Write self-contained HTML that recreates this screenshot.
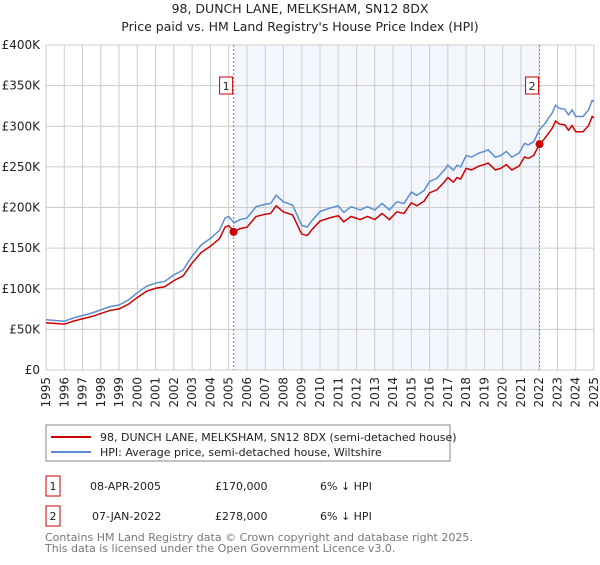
<!DOCTYPE html>
<html><head><meta charset="utf-8"><style>
body{margin:0;background:#fff;font-family:"Liberation Sans","DejaVu Sans",sans-serif}
svg text{font-family:"DejaVu Sans","Liberation Sans",sans-serif}
</style></head><body>
<svg id="c" width="600" height="560" xmlns="http://www.w3.org/2000/svg">
<text x="300" y="13" text-anchor="middle" font-size="12.5" fill="#222">98, DUNCH LANE, MELKSHAM, SN12 8DX</text>
<text x="300" y="31" text-anchor="middle" font-size="12.5" fill="#222">Price paid vs. HM Land Registry's House Price Index (HPI)</text>
<g id="plot"></g>
<g>
<rect x="46" y="425" width="404" height="36" fill="#fff" stroke="#888"/>
<line x1="51" y1="437" x2="91" y2="437" stroke="#cc0000" stroke-width="2"/>
<text x="100" y="441" font-size="11" fill="#222">98, DUNCH LANE, MELKSHAM, SN12 8DX (semi-detached house)</text>
<line x1="51" y1="452" x2="91" y2="452" stroke="#5b8dd0" stroke-width="2"/>
<text x="100" y="456" font-size="11" fill="#222">HPI: Average price, semi-detached house, Wiltshire</text>
</g>
<g font-size="11" fill="#222">
<rect x="46" y="476" width="14" height="20" fill="none" stroke="#cc0000"/>
<text x="53" y="490" text-anchor="middle">1</text>
<text x="90" y="490">08-APR-2005</text><text x="215" y="490">£170,000</text><text x="320" y="490">6% ↓ HPI</text>
<rect x="46" y="506" width="14" height="20" fill="none" stroke="#cc0000"/>
<text x="53" y="520" text-anchor="middle">2</text>
<text x="92" y="520">07-JAN-2022</text><text x="215" y="520">£278,000</text><text x="320" y="520">6% ↓ HPI</text>
</g>
<text x="45" y="541" font-size="11" fill="#777">Contains HM Land Registry data © Crown copyright and database right 2025.</text>
<text x="45" y="552" font-size="11" fill="#777">This data is licensed under the Open Government Licence v3.0.</text>
</svg>
<script>
const years=[1995,1996,1996.5,1997.5,1998.5,1999,1999.5,2000,2000.5,2001,2001.5,2002,2002.5,2003,2003.5,2004,2004.5,2004.8,2005,2005.3,2005.6,2006,2006.5,2007,2007.3,2007.6,2008,2008.5,2009,2009.3,2009.6,2010,2010.5,2011,2011.3,2011.7,2012.2,2012.6,2013,2013.4,2013.8,2014.2,2014.6,2015,2015.3,2015.7,2016,2016.4,2016.8,2017,2017.3,2017.5,2017.7,2018,2018.3,2018.7,2019,2019.2,2019.6,2019.9,2020.2,2020.5,2020.9,2021.2,2021.4,2021.7,2022,2022.3,2022.7,2022.9,2023.1,2023.4,2023.6,2023.8,2024,2024.4,2024.7,2024.9,2025];
const hpi=[61.8,60,64,70,78,80,86,95,103,107,109,117,123,140,154,162,172,187,189,181,185,187,201,204,205,215,207,203,178,176,185,195,199,202,194,201,197,201,197,205,197,207,205,219,215,221,232,236,246,252,246,252,250,264,262,267,269,271,262,264,269,262,267,279,277,281,295,303,316,326,322,321,314,320,312,312,320,332,330];
const priceRatio=[0.94];
const saleYears=[2005.27,2022.02];
const salePrices=[170,278];
const yTicks=[0,50,100,150,200,250,300,350,400];
const yTickLabels=["£0","£50K","£100K","£150K","£200K","£250K","£300K","£350K","£400K"];
const xTicks=[1995,1996,1997,1998,1999,2000,2001,2002,2003,2004,2005,2006,2007,2008,2009,2010,2011,2012,2013,2014,2015,2016,2017,2018,2019,2020,2021,2022,2023,2024,2025];
const X0=46,X1=594,Y0=370,Y1=45;
const xs=y=>X0+(y-1995)/30*(X1-X0);
const ys=v=>Y0-v/400*(Y0-Y1);
const NS="http://www.w3.org/2000/svg";
const g=document.getElementById('plot');
function mk(t,a){const e=document.createElementNS(NS,t);for(const k in a)e.setAttribute(k,a[k]);g.appendChild(e);return e;}
let e=mk('rect',{x:X0,y:Y1,width:X1-X0,height:Y0-Y1,fill:'#fff'});


e=mk('rect',{x:xs(saleYears[0]),y:Y1,width:xs(saleYears[1])-xs(saleYears[0]),height:Y0-Y1,fill:'#eef3fc',opacity:0.7});


xTicks.forEach(t=>{const l=mk('line',{x1:xs(t),x2:xs(t),y1:Y1,y2:Y0,stroke:'#ccc'});


const tx=mk('text',{transform:`translate(${xs(t)+4},${Y0+7}) rotate(-90)`,'text-anchor':'end','font-size':'12',fill:'#222'});
tx.textContent=t;

});
yTicks.forEach((t,i)=>{const l=mk('line',{x1:X0,x2:X1,y1:ys(t),y2:ys(t),stroke:'#ccc'});


const tx=mk('text',{x:X0-6,y:ys(t)+4,'text-anchor':'end','font-size':'12',fill:'#222'});
tx.textContent=yTickLabels[i];

});
saleYears.forEach((s,i)=>{const l=mk('line',{x1:xs(s),x2:xs(s),y1:Y1,y2:Y0,stroke:'#e06060','stroke-dasharray':'2,2'});


const r=mk('rect',{x:xs(s)-14,y:77,width:13,height:17,fill:'#fff',stroke:'#cc0000'});


const tx=mk('text',{x:xs(s)-7.5,y:90,'text-anchor':'middle','font-size':'11',fill:'#222'});
tx.textContent=i+1;

});
let p=mk('polyline',{points:years.map((y,i)=>xs(y)+','+ys(hpi[i])).join(' '),fill:'none',stroke:'#5b8dd0','stroke-width':1.5});


p=mk('polyline',{points:years.map((y,i)=>xs(y)+','+ys(hpi[i]*priceRatio[0])).join(' '),fill:'none',stroke:'#cc0000','stroke-width':1.5});


saleYears.forEach((s,i)=>{const c=mk('circle',{cx:xs(s),cy:ys(salePrices[i]),r:4,fill:'#cc0000'});

});
</script>
</body></html>
